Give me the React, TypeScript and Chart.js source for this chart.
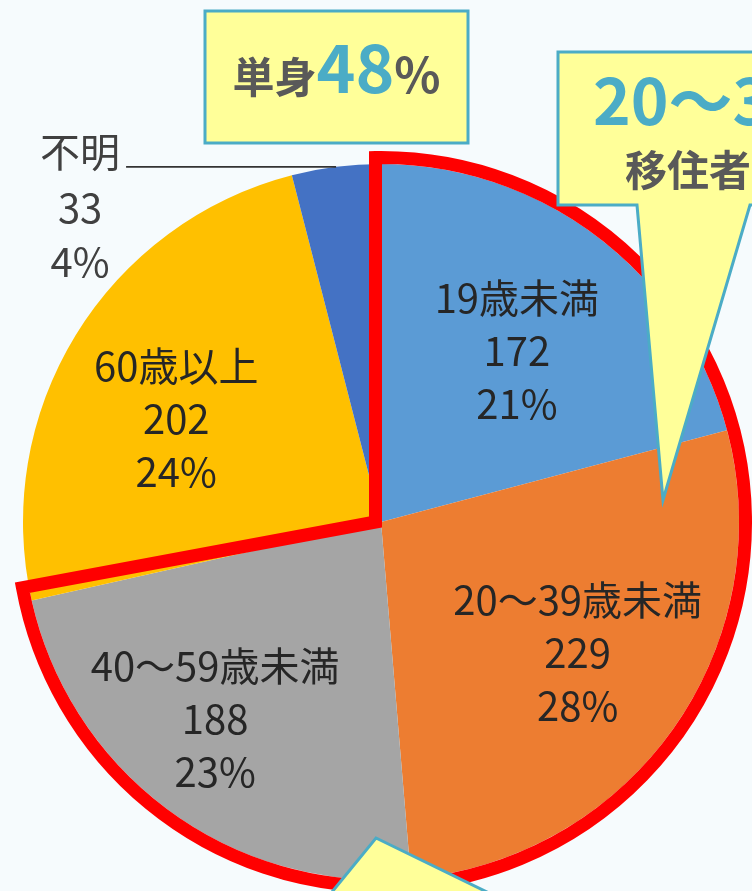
import React, { useEffect, useRef } from "react";
import { Chart, registerables } from "chart.js";

Chart.register(...registerables);

// ---- data ----
const CATEGORIES = ["19歳未満", "20～39歳未満", "40～59歳未満", "60歳以上", "不明"];
const VALUES = [172, 229, 188, 202, 33];
const PERCENT_LABELS = ["21%", "28%", "23%", "24%", "4%"];
const COLORS = ["#5B9BD5", "#ED7D31", "#A5A5A5", "#FFC000", "#4472C4"];
const CALLOUT_MAIN = ["単身", "48", "%"];
const CALLOUT_RIGHT = ["20～39", "移住者"];

// ---- layout / style ----
const W = 752;
const H = 891;
const BG = "#F6FBFD";
const FONT = '"Noto Sans CJK JP", "Noto Sans", sans-serif';
const TEAL = "#4BACC6";
const YELLOW = "#FFFF99";
const GRAY_TXT = "#595959";
// per-slice label placement: angle shift (deg) from slice middle and radial fraction
const LABEL_PLACE = [
  { da: 0.9, f: 0.61 },
  { da: -1.5, f: 0.66 },
  { da: 3.8, f: 0.72 },
  { da: -4.8, f: 0.64 },
];
const DEG = Math.PI / 180;

const overlayPlugin = {
  id: "overlay",
  afterDatasetsDraw(chart: any) {
    const ctx: CanvasRenderingContext2D = chart.ctx;
    const arcs = chart.getDatasetMeta(0).data as any[];
    const a0 = arcs[0];
    const cx = a0.x;
    const cy = a0.y;
    const R = a0.outerRadius;
    ctx.save();

    // red outline around first three slices
    const lw = 13;
    const rR = R + lw / 2;
    const vx = cx - 5.5;
    const startA = a0.startAngle - Math.asin(5.5 / rR);
    const endA = arcs[2].endAngle + 2.3 * DEG;
    ctx.beginPath();
    ctx.moveTo(vx, cy);
    ctx.lineTo(cx + rR * Math.cos(startA), cy + rR * Math.sin(startA));
    ctx.arc(cx, cy, rR, startA, endA);
    ctx.closePath();
    ctx.lineWidth = lw;
    ctx.lineJoin = "miter";
    ctx.strokeStyle = "#FF0000";
    ctx.stroke();

    // inner labels
    ctx.font = `40px ${FONT}`;
    ctx.textAlign = "center";
    ctx.textBaseline = "middle";
    ctx.fillStyle = "#262626";
    for (let i = 0; i < 4; i++) {
      const arc = arcs[i];
      const mid = (arc.startAngle + arc.endAngle) / 2 + LABEL_PLACE[i].da * DEG;
      const rr = R * LABEL_PLACE[i].f;
      const x = cx + rr * Math.cos(mid);
      const y = cy + rr * Math.sin(mid);
      const lines = [CATEGORIES[i], String(VALUES[i]), PERCENT_LABELS[i]];
      lines.forEach((t, k) => ctx.fillText(t, x, y + (k - 1) * 53));
    }

    // outside label for last slice with leader line
    const u = arcs[4];
    const um = (u.startAngle + u.endAngle) / 2;
    const ex = cx + R * Math.cos(um);
    const ey = cy + R * Math.sin(um);
    ctx.beginPath();
    ctx.moveTo(ex - 210, ey);
    ctx.lineTo(ex, ey);
    ctx.lineWidth = 1.6;
    ctx.strokeStyle = "#333333";
    ctx.stroke();
    ctx.fillStyle = "#404040";
    const lx = ex - 256;
    ctx.fillText(CATEGORIES[4], lx, ey - 15);
    ctx.fillText(String(VALUES[4]), lx, ey + 41);
    ctx.fillText(PERCENT_LABELS[4], lx, ey + 95);

    // top callout box
    ctx.lineJoin = "miter";
    ctx.fillStyle = YELLOW;
    ctx.strokeStyle = TEAL;
    ctx.lineWidth = 3;
    ctx.fillRect(205, 11, 263, 132);
    ctx.strokeRect(205, 11, 263, 132);
    const parts = [
      { t: CALLOUT_MAIN[0], f: `bold 42px ${FONT}`, c: GRAY_TXT },
      { t: CALLOUT_MAIN[1], f: `bold 66px ${FONT}`, c: TEAL },
      { t: CALLOUT_MAIN[2], f: `bold 48px ${FONT}`, c: GRAY_TXT },
    ];
    let total = 0;
    const widths = parts.map((p) => {
      ctx.font = p.f;
      const w = ctx.measureText(p.t).width;
      total += w;
      return w;
    });
    let px = 336.5 - total / 2;
    ctx.textAlign = "left";
    ctx.textBaseline = "alphabetic";
    parts.forEach((p, i) => {
      ctx.font = p.f;
      ctx.fillStyle = p.c;
      ctx.fillText(p.t, px, 93);
      px += widths[i];
    });

    // right callout with pointer
    ctx.beginPath();
    ctx.moveTo(558, 52);
    ctx.lineTo(800, 52);
    ctx.lineTo(800, 205);
    ctx.lineTo(750, 205);
    ctx.lineTo(663, 500);
    ctx.lineTo(637, 205);
    ctx.lineTo(558, 205);
    ctx.closePath();
    ctx.fillStyle = YELLOW;
    ctx.fill();
    ctx.strokeStyle = TEAL;
    ctx.lineWidth = 3;
    ctx.stroke();
    ctx.font = `bold 64px ${FONT}`;
    ctx.fillStyle = TEAL;
    ctx.fillText(CALLOUT_RIGHT[0], 593, 125);
    ctx.font = `bold 42px ${FONT}`;
    ctx.fillStyle = GRAY_TXT;
    ctx.fillText(CALLOUT_RIGHT[1], 625, 186);

    // bottom callout pointer
    ctx.beginPath();
    ctx.moveTo(376, 838);
    ctx.lineTo(565, 930);
    ctx.lineTo(301, 930);
    ctx.closePath();
    ctx.fillStyle = YELLOW;
    ctx.fill();
    ctx.strokeStyle = TEAL;
    ctx.lineWidth = 3;
    ctx.stroke();

    ctx.restore();
  },
};

export default function App() {
  const ref = useRef<HTMLCanvasElement>(null);
  useEffect(() => {
    const canvas = ref.current;
    if (!canvas) return;
    const chart = new Chart(canvas, {
      type: "pie",
      data: {
        labels: CATEGORIES,
        datasets: [
          {
            data: VALUES,
            backgroundColor: COLORS,
            borderWidth: 0,
            hoverOffset: 0,
            radius: 358,
          } as any,
        ],
      },
      options: {
        responsive: false,
        animation: false,
        events: [],
        layout: { padding: { left: 20, right: 10, top: 160, bottom: 7 } },
        plugins: {
          legend: { display: false },
          tooltip: { enabled: false },
        },
      },
      plugins: [overlayPlugin],
    });
    return () => chart.destroy();
  }, []);
  return (
    <div
      style={{
        position: "fixed",
        left: 0,
        top: 0,
        width: W,
        height: H,
        background: BG,
        overflow: "hidden",
      }}
    >
      <canvas ref={ref} width={W} height={H} style={{ display: "block" }} />
    </div>
  );
}
